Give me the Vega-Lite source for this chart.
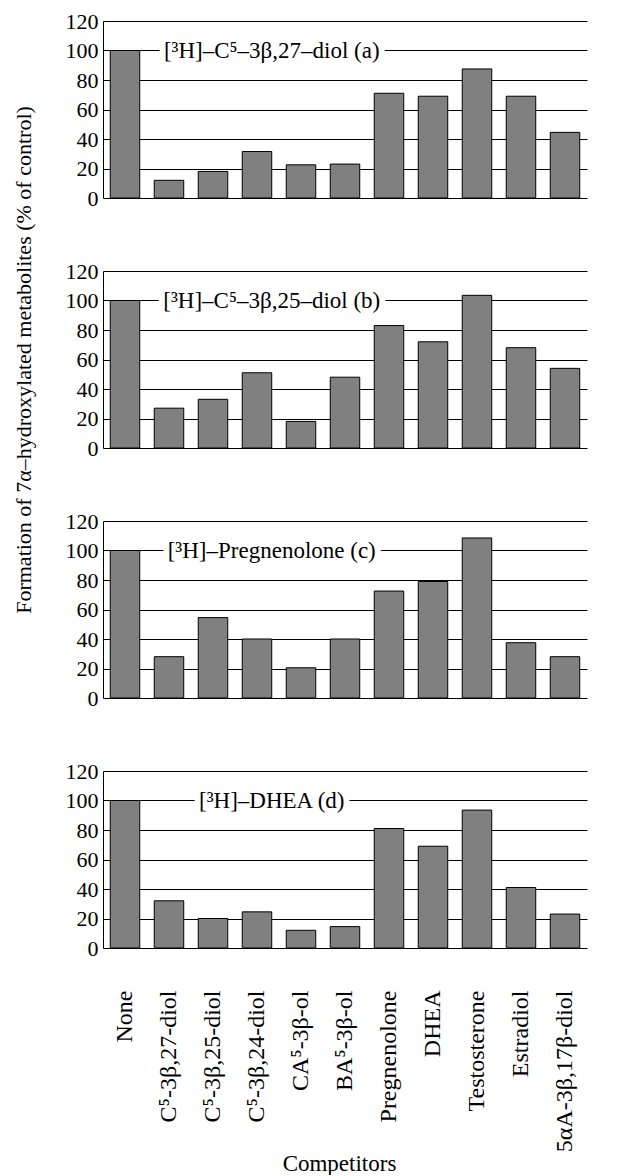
{
  "$schema": "https://vega.github.io/schema/vega-lite/v6.json",
  "background": "white",
  "padding": {"left": 11, "top": 10, "right": 0, "bottom": 0},
  "autosize": {"type": "pad"},
  "bounds": "flush",
  "spacing": 73,
  "config": {
    "view": {"stroke": null},
    "font": "Liberation Serif",
    "axis": {
      "labelFont": "Liberation Serif", "titleFont": "Liberation Serif",
      "labelFontSize": 22, "titleFontSize": 23,
      "labelColor": "black", "titleColor": "black", "titleFontWeight": "normal",
      "domainColor": "black", "domainWidth": 1,
      "gridColor": "black", "gridOpacity": 1, "gridWidth": 1,
      "ticks": false, "labelOverlap": false
    }
  },
  "datasets": {
    "bars": [
      {"panel": "a", "competitor": "None", "value": 100},
      {"panel": "a", "competitor": "C⁵-3β,27-diol", "value": 12},
      {"panel": "a", "competitor": "C⁵-3β,25-diol", "value": 18},
      {"panel": "a", "competitor": "C⁵-3β,24-diol", "value": 31.5},
      {"panel": "a", "competitor": "CA⁵-3β-ol", "value": 22.5},
      {"panel": "a", "competitor": "BA⁵-3β-ol", "value": 23},
      {"panel": "a", "competitor": "Pregnenolone", "value": 71},
      {"panel": "a", "competitor": "DHEA", "value": 69},
      {"panel": "a", "competitor": "Testosterone", "value": 87.5},
      {"panel": "a", "competitor": "Estradiol", "value": 69},
      {"panel": "a", "competitor": "5αA-3β,17β-diol", "value": 44.5},
      {"panel": "b", "competitor": "None", "value": 100},
      {"panel": "b", "competitor": "C⁵-3β,27-diol", "value": 27},
      {"panel": "b", "competitor": "C⁵-3β,25-diol", "value": 33},
      {"panel": "b", "competitor": "C⁵-3β,24-diol", "value": 51},
      {"panel": "b", "competitor": "CA⁵-3β-ol", "value": 18},
      {"panel": "b", "competitor": "BA⁵-3β-ol", "value": 48},
      {"panel": "b", "competitor": "Pregnenolone", "value": 83},
      {"panel": "b", "competitor": "DHEA", "value": 72},
      {"panel": "b", "competitor": "Testosterone", "value": 103.5},
      {"panel": "b", "competitor": "Estradiol", "value": 68},
      {"panel": "b", "competitor": "5αA-3β,17β-diol", "value": 54},
      {"panel": "c", "competitor": "None", "value": 100},
      {"panel": "c", "competitor": "C⁵-3β,27-diol", "value": 28},
      {"panel": "c", "competitor": "C⁵-3β,25-diol", "value": 54.5},
      {"panel": "c", "competitor": "C⁵-3β,24-diol", "value": 40},
      {"panel": "c", "competitor": "CA⁵-3β-ol", "value": 20.5},
      {"panel": "c", "competitor": "BA⁵-3β-ol", "value": 40},
      {"panel": "c", "competitor": "Pregnenolone", "value": 72.5},
      {"panel": "c", "competitor": "DHEA", "value": 79},
      {"panel": "c", "competitor": "Testosterone", "value": 108.5},
      {"panel": "c", "competitor": "Estradiol", "value": 37.5},
      {"panel": "c", "competitor": "5αA-3β,17β-diol", "value": 28},
      {"panel": "d", "competitor": "None", "value": 100},
      {"panel": "d", "competitor": "C⁵-3β,27-diol", "value": 32},
      {"panel": "d", "competitor": "C⁵-3β,25-diol", "value": 20},
      {"panel": "d", "competitor": "C⁵-3β,24-diol", "value": 24.5},
      {"panel": "d", "competitor": "CA⁵-3β-ol", "value": 12},
      {"panel": "d", "competitor": "BA⁵-3β-ol", "value": 14.5},
      {"panel": "d", "competitor": "Pregnenolone", "value": 81},
      {"panel": "d", "competitor": "DHEA", "value": 69},
      {"panel": "d", "competitor": "Testosterone", "value": 93.5},
      {"panel": "d", "competitor": "Estradiol", "value": 41},
      {"panel": "d", "competitor": "5αA-3β,17β-diol", "value": 23}
    ],
    "titles": [
      {"panel": "a", "title": "[³H]–C⁵–3β,27–diol (a)"},
      {"panel": "b", "title": "[³H]–C⁵–3β,25–diol (b)"},
      {"panel": "c", "title": "[³H]–Pregnenolone (c)"},
      {"panel": "d", "title": "[³H]–DHEA (d)"}
    ]
  },
  "vconcat": [
    {
      "width": 519, "height": 177,
      "layer": [
        {
          "data": {"name": "bars"},
          "transform": [{"filter": "datum.panel === 'a'"}],
          "mark": {"type": "bar", "fill": "#808080", "stroke": "black", "strokeWidth": 1},
          "encoding": {
            "x": {"field": "competitor", "type": "nominal", "sort": null,
                  "scale": {"domain": ["None", "C⁵-3β,27-diol", "C⁵-3β,25-diol", "C⁵-3β,24-diol", "CA⁵-3β-ol", "BA⁵-3β-ol", "Pregnenolone", "DHEA", "Testosterone", "Estradiol", "5αA-3β,17β-diol"], "range": [0, 484], "paddingInner": 0.33, "paddingOuter": 0.165},
                  "axis": {"domain": false, "labels": false, "title": null}},
            "y": {"field": "value", "type": "quantitative", "scale": {"domain": [0, 120], "nice": false},
                  "axis": {"values": [0, 20, 40, 60, 80, 100, 120], "title": null, "grid": true, "labelPadding": 5}}
          }
        },
        {
          "data": {"name": "titles"},
          "transform": [{"filter": "datum.panel === 'a'"}],
          "mark": {"type": "text", "align": "center", "baseline": "middle", "fontSize": 23, "font": "Liberation Serif", "fill": "white", "stroke": "white", "strokeWidth": 12, "strokeJoin": "round"},
          "encoding": {
            "x": {"datum": "C⁵-3β,24-diol", "type": "nominal", "bandPosition": 1, "axis": {"domain": false, "labels": false, "title": null}},
            "y": {"datum": 100, "type": "quantitative", "axis": {"values": [0, 20, 40, 60, 80, 100, 120], "title": null, "grid": true, "labelPadding": 5}},
            "text": {"field": "title"}}
        },
        {
          "data": {"name": "titles"},
          "transform": [{"filter": "datum.panel === 'a'"}],
          "mark": {"type": "text", "align": "center", "baseline": "middle", "fontSize": 23, "font": "Liberation Serif", "fill": "black"},
          "encoding": {
            "x": {"datum": "C⁵-3β,24-diol", "type": "nominal", "bandPosition": 1, "axis": {"domain": false, "labels": false, "title": null}},
            "y": {"datum": 100, "type": "quantitative", "axis": {"values": [0, 20, 40, 60, 80, 100, 120], "title": null, "grid": true, "labelPadding": 5}},
            "text": {"field": "title"}}
        }
      ]
    },
    {
      "width": 519, "height": 177,
      "layer": [
        {
          "data": {"name": "bars"},
          "transform": [{"filter": "datum.panel === 'b'"}],
          "mark": {"type": "bar", "fill": "#808080", "stroke": "black", "strokeWidth": 1},
          "encoding": {
            "x": {"field": "competitor", "type": "nominal", "sort": null,
                  "scale": {"domain": ["None", "C⁵-3β,27-diol", "C⁵-3β,25-diol", "C⁵-3β,24-diol", "CA⁵-3β-ol", "BA⁵-3β-ol", "Pregnenolone", "DHEA", "Testosterone", "Estradiol", "5αA-3β,17β-diol"], "range": [0, 484], "paddingInner": 0.33, "paddingOuter": 0.165},
                  "axis": {"domain": false, "labels": false, "title": null}},
            "y": {"field": "value", "type": "quantitative", "scale": {"domain": [0, 120], "nice": false},
                  "axis": {"values": [0, 20, 40, 60, 80, 100, 120], "title": "Formation of 7α–hydroxylated metabolites (% of control)", "titleFontSize": 22, "titlePadding": 30, "grid": true, "labelPadding": 5}}
          }
        },
        {
          "data": {"name": "titles"},
          "transform": [{"filter": "datum.panel === 'b'"}],
          "mark": {"type": "text", "align": "center", "baseline": "middle", "fontSize": 23, "font": "Liberation Serif", "fill": "white", "stroke": "white", "strokeWidth": 12, "strokeJoin": "round"},
          "encoding": {
            "x": {"datum": "C⁵-3β,24-diol", "type": "nominal", "bandPosition": 1, "axis": {"domain": false, "labels": false, "title": null}},
            "y": {"datum": 100, "type": "quantitative", "axis": {"values": [0, 20, 40, 60, 80, 100, 120], "title": "Formation of 7α–hydroxylated metabolites (% of control)", "titleFontSize": 22, "titlePadding": 30, "grid": true, "labelPadding": 5}},
            "text": {"field": "title"}}
        },
        {
          "data": {"name": "titles"},
          "transform": [{"filter": "datum.panel === 'b'"}],
          "mark": {"type": "text", "align": "center", "baseline": "middle", "fontSize": 23, "font": "Liberation Serif", "fill": "black"},
          "encoding": {
            "x": {"datum": "C⁵-3β,24-diol", "type": "nominal", "bandPosition": 1, "axis": {"domain": false, "labels": false, "title": null}},
            "y": {"datum": 100, "type": "quantitative", "axis": {"values": [0, 20, 40, 60, 80, 100, 120], "title": "Formation of 7α–hydroxylated metabolites (% of control)", "titleFontSize": 22, "titlePadding": 30, "grid": true, "labelPadding": 5}},
            "text": {"field": "title"}}
        }
      ]
    },
    {
      "width": 519, "height": 177,
      "layer": [
        {
          "data": {"name": "bars"},
          "transform": [{"filter": "datum.panel === 'c'"}],
          "mark": {"type": "bar", "fill": "#808080", "stroke": "black", "strokeWidth": 1},
          "encoding": {
            "x": {"field": "competitor", "type": "nominal", "sort": null,
                  "scale": {"domain": ["None", "C⁵-3β,27-diol", "C⁵-3β,25-diol", "C⁵-3β,24-diol", "CA⁵-3β-ol", "BA⁵-3β-ol", "Pregnenolone", "DHEA", "Testosterone", "Estradiol", "5αA-3β,17β-diol"], "range": [0, 484], "paddingInner": 0.33, "paddingOuter": 0.165},
                  "axis": {"domain": false, "labels": false, "title": null}},
            "y": {"field": "value", "type": "quantitative", "scale": {"domain": [0, 120], "nice": false},
                  "axis": {"values": [0, 20, 40, 60, 80, 100, 120], "title": null, "grid": true, "labelPadding": 5}}
          }
        },
        {
          "data": {"name": "titles"},
          "transform": [{"filter": "datum.panel === 'c'"}],
          "mark": {"type": "text", "align": "center", "baseline": "middle", "fontSize": 23, "font": "Liberation Serif", "fill": "white", "stroke": "white", "strokeWidth": 12, "strokeJoin": "round"},
          "encoding": {
            "x": {"datum": "C⁵-3β,24-diol", "type": "nominal", "bandPosition": 1, "axis": {"domain": false, "labels": false, "title": null}},
            "y": {"datum": 100, "type": "quantitative", "axis": {"values": [0, 20, 40, 60, 80, 100, 120], "title": null, "grid": true, "labelPadding": 5}},
            "text": {"field": "title"}}
        },
        {
          "data": {"name": "titles"},
          "transform": [{"filter": "datum.panel === 'c'"}],
          "mark": {"type": "text", "align": "center", "baseline": "middle", "fontSize": 23, "font": "Liberation Serif", "fill": "black"},
          "encoding": {
            "x": {"datum": "C⁵-3β,24-diol", "type": "nominal", "bandPosition": 1, "axis": {"domain": false, "labels": false, "title": null}},
            "y": {"datum": 100, "type": "quantitative", "axis": {"values": [0, 20, 40, 60, 80, 100, 120], "title": null, "grid": true, "labelPadding": 5}},
            "text": {"field": "title"}}
        }
      ]
    },
    {
      "width": 519, "height": 177,
      "layer": [
        {
          "data": {"name": "bars"},
          "transform": [{"filter": "datum.panel === 'd'"}],
          "mark": {"type": "bar", "fill": "#808080", "stroke": "black", "strokeWidth": 1},
          "encoding": {
            "x": {"field": "competitor", "type": "nominal", "sort": null,
                  "scale": {"domain": ["None", "C⁵-3β,27-diol", "C⁵-3β,25-diol", "C⁵-3β,24-diol", "CA⁵-3β-ol", "BA⁵-3β-ol", "Pregnenolone", "DHEA", "Testosterone", "Estradiol", "5αA-3β,17β-diol"], "range": [0, 484], "paddingInner": 0.33, "paddingOuter": 0.165},
                  "axis": {"domain": false, "labelAngle": -90, "labelAlign": "right", "labelBaseline": "middle", "labelPadding": 42, "labelFontSize": 24, "title": "Competitors", "titlePadding": 4, "titleX": 236}},
            "y": {"field": "value", "type": "quantitative", "scale": {"domain": [0, 120], "nice": false},
                  "axis": {"values": [0, 20, 40, 60, 80, 100, 120], "title": null, "grid": true, "labelPadding": 5}}
          }
        },
        {
          "data": {"name": "titles"},
          "transform": [{"filter": "datum.panel === 'd'"}],
          "mark": {"type": "text", "align": "center", "baseline": "middle", "fontSize": 23, "font": "Liberation Serif", "fill": "white", "stroke": "white", "strokeWidth": 12, "strokeJoin": "round"},
          "encoding": {
            "x": {"datum": "C⁵-3β,24-diol", "type": "nominal", "bandPosition": 1, "axis": {"domain": false, "labelAngle": -90, "labelAlign": "right", "labelBaseline": "middle", "labelPadding": 42, "labelFontSize": 24, "title": "Competitors", "titlePadding": 4, "titleX": 236}},
            "y": {"datum": 100, "type": "quantitative", "axis": {"values": [0, 20, 40, 60, 80, 100, 120], "title": null, "grid": true, "labelPadding": 5}},
            "text": {"field": "title"}}
        },
        {
          "data": {"name": "titles"},
          "transform": [{"filter": "datum.panel === 'd'"}],
          "mark": {"type": "text", "align": "center", "baseline": "middle", "fontSize": 23, "font": "Liberation Serif", "fill": "black"},
          "encoding": {
            "x": {"datum": "C⁵-3β,24-diol", "type": "nominal", "bandPosition": 1, "axis": {"domain": false, "labelAngle": -90, "labelAlign": "right", "labelBaseline": "middle", "labelPadding": 42, "labelFontSize": 24, "title": "Competitors", "titlePadding": 4, "titleX": 236}},
            "y": {"datum": 100, "type": "quantitative", "axis": {"values": [0, 20, 40, 60, 80, 100, 120], "title": null, "grid": true, "labelPadding": 5}},
            "text": {"field": "title"}}
        }
      ]
    }
  ]
}
